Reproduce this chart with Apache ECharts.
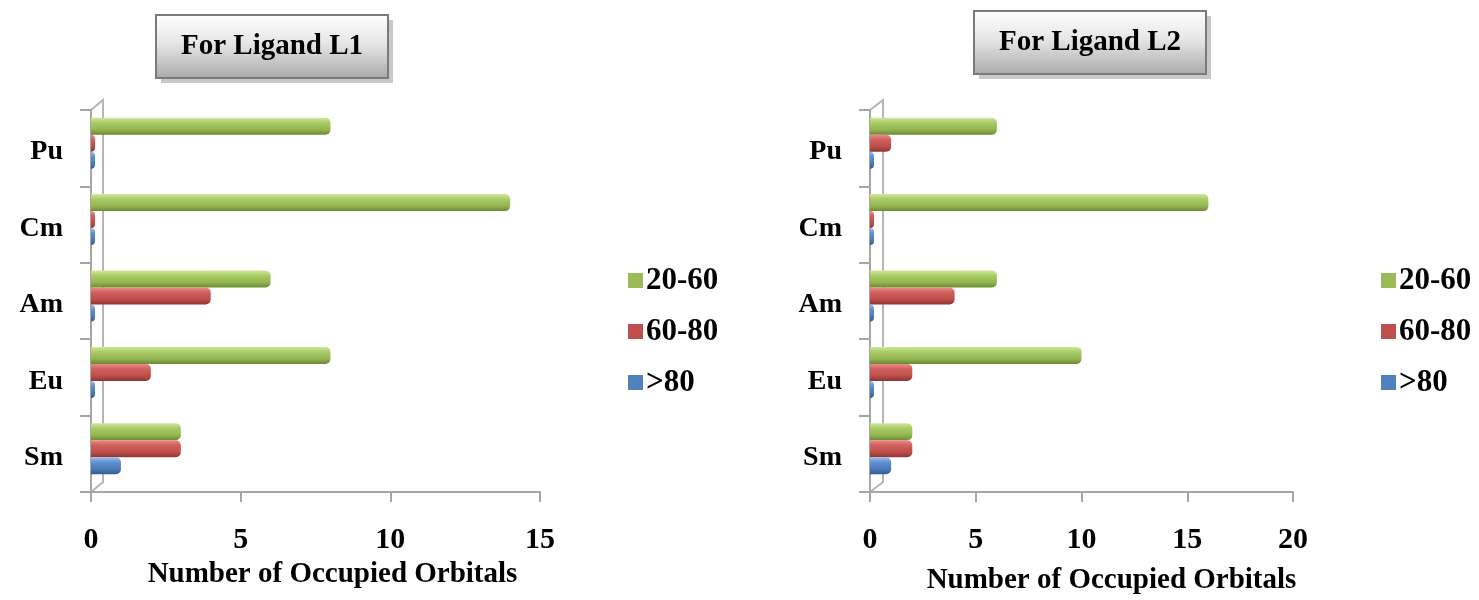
<!DOCTYPE html>
<html>
<head>
<meta charset="utf-8">
<script src="https://cdn.jsdelivr.net/npm/echarts@6/dist/echarts.min.js"></script>
<style>
html,body{margin:0;padding:0;background:#fff;}
#chart{width:1479px;height:600px;}
</style>
</head>
<body>
<div id="chart"></div>
<script>
// ---- data ----
const categories = ['Sm', 'Eu', 'Am', 'Cm', 'Pu'];
const seriesNames = ['20-60', '60-80', '>80'];
const L1_20_60 = [3, 8, 6, 14, 8];
const L1_60_80 = [3, 2, 4, 0, 0];
const L1_gt80  = [1, 0, 0, 0, 0];
const L2_20_60 = [2, 10, 6, 16, 6];
const L2_60_80 = [2, 2, 4, 0, 1];
const L2_gt80  = [1, 0, 0, 0, 0];
const xTicksL1 = {min: 0, max: 15, interval: 5};
const xTicksL2 = {min: 0, max: 20, interval: 5};
const titles = ['For Ligand L1', 'For Ligand L2'];
const axisName = 'Number of Occupied Orbitals';

const FONT = '"Liberation Serif", "Times New Roman", serif';
const chart = echarts.init(document.getElementById('chart'));

function grad(c1, c2, c3, c4) {
  return new echarts.graphic.LinearGradient(0, 0, 0, 1, [
    {offset: 0, color: c1}, {offset: 0.3, color: c2},
    {offset: 0.7, color: c3}, {offset: 1, color: c4}
  ]);
}
const styles = {
  '20-60': {fill: grad('#cfe79a', '#a9cb66', '#94b552', '#6b8a33'), legend: '#9BBB59'},
  '60-80': {fill: grad('#ec8c88', '#d0605c', '#bc4d4a', '#8e3533'), legend: '#C0504D'},
  '>80':   {fill: grad('#9cc0ec', '#5e90cf', '#4a7bb8', '#335a8c'), legend: '#4F81BD'}
};

const grids = [
  {left: 91, top: 110, width: 449, height: 382},
  {left: 870, top: 110, width: 423, height: 382}
];

function xAxis(gi, t, gap, shift) {
  return {
    type: 'value', gridIndex: gi, min: t.min, max: t.max, interval: t.interval,
    splitLine: {show: false},
    axisLine: {show: true, lineStyle: {color: '#a6a6a6', width: 2}},
    axisTick: {show: true, length: 10, lineStyle: {color: '#a6a6a6', width: 2}},
    axisLabel: {margin: 33, fontFamily: FONT, fontWeight: 'bold', fontSize: 30, color: '#000'},
    name: axisName, nameLocation: 'middle', nameGap: gap,
    nameTextStyle: {fontFamily: FONT, fontWeight: 'bold', fontSize: 29, color: '#000', padding: [0, 0, 0, shift]}
  };
}
function yAxis(gi) {
  return {
    type: 'category', gridIndex: gi, data: categories,
    axisLine: {show: true, lineStyle: {color: '#a6a6a6', width: 2}},
    axisTick: {show: true, length: 11, lineStyle: {color: '#a6a6a6', width: 2}},
    axisLabel: {margin: 28, fontFamily: FONT, fontWeight: 'bold', fontSize: 28, color: '#000',
                verticalAlign: 'top', lineHeight: 8}
  };
}
function bar(name, data, gi) {
  return {
    type: 'bar', name: name, data: data, xAxisIndex: gi, yAxisIndex: gi,
    barWidth: 17, barGap: 0, barMinHeight: 4,
    itemStyle: {color: styles[name].fill, borderRadius: [0, 5, 5, 0]},
    emphasis: {disabled: true}
  };
}
// empty spacer so the group of bars sits slightly above the band centre, as in the reference
function spacer(gi) {
  return {type: 'bar', name: 'spacer', data: [], xAxisIndex: gi, yAxisIndex: gi, barWidth: 10, barGap: 0, silent: true};
}
function legend(left) {
  return {
    data: seriesNames.map(n => ({name: n, itemStyle: {color: styles[n].legend}})),
    orient: 'vertical', left: left, top: 260, icon: 'rect',
    itemWidth: 15, itemHeight: 15, itemGap: 20,
    textStyle: {fontFamily: FONT, fontWeight: 'bold', fontSize: 31, lineHeight: 31, color: '#000', padding: [0, 0, 0, -2]}
  };
}
function titleBox(x, y, w, h, text) {
  return {
    type: 'group', left: x, top: y,
    children: [
      {type: 'rect', shape: {x: 5, y: 5, width: w, height: h}, style: {fill: '#c8c8c8'}},
      {type: 'rect', shape: {x: 0, y: 0, width: w, height: h},
       style: {fill: new echarts.graphic.LinearGradient(0, 0, 0, 1, [
         {offset: 0, color: '#ffffff'}, {offset: 0.45, color: '#e6e6e6'}, {offset: 1, color: '#a9a9a9'}]),
         stroke: '#7a7a7a', lineWidth: 2}},
      {type: 'text', x: w / 2, y: h / 2,
       style: {text: text, fontFamily: FONT, fontWeight: 'bold', fontSize: 29, fill: '#000',
               align: 'center', verticalAlign: 'middle'}}
    ]
  };
}
function wall(g, dx, dy) {
  const x0 = g.left, t = g.top, b = g.top + g.height;
  return {
    type: 'polyline', silent: true,
    shape: {points: [[x0, t], [x0 + dx, t - dy], [x0 + dx, b - dy], [x0, b]]},
    style: {fill: null, stroke: '#b5b5b5', lineWidth: 2}
  };
}

chart.setOption({
  animation: false,
  grid: grids,
  xAxis: [xAxis(0, xTicksL1, 60, 34), xAxis(1, xTicksL2, 74, 60)],
  yAxis: [yAxis(0), yAxis(1)],
  legend: [legend(623), legend(1376)],
  series: [
    bar('20-60', L1_20_60, 0), bar('60-80', L1_60_80, 0), bar('>80', L1_gt80, 0), spacer(0),
    bar('20-60', L2_20_60, 1), bar('60-80', L2_60_80, 1), bar('>80', L2_gt80, 1), spacer(1)
  ],
  graphic: [
    wall(grids[0], 12, 10), wall(grids[1], 13, 10),
    titleBox(155, 14, 232, 63, titles[0]),
    titleBox(973, 10, 232, 63, titles[1])
  ]
});
</script>
</body>
</html>
